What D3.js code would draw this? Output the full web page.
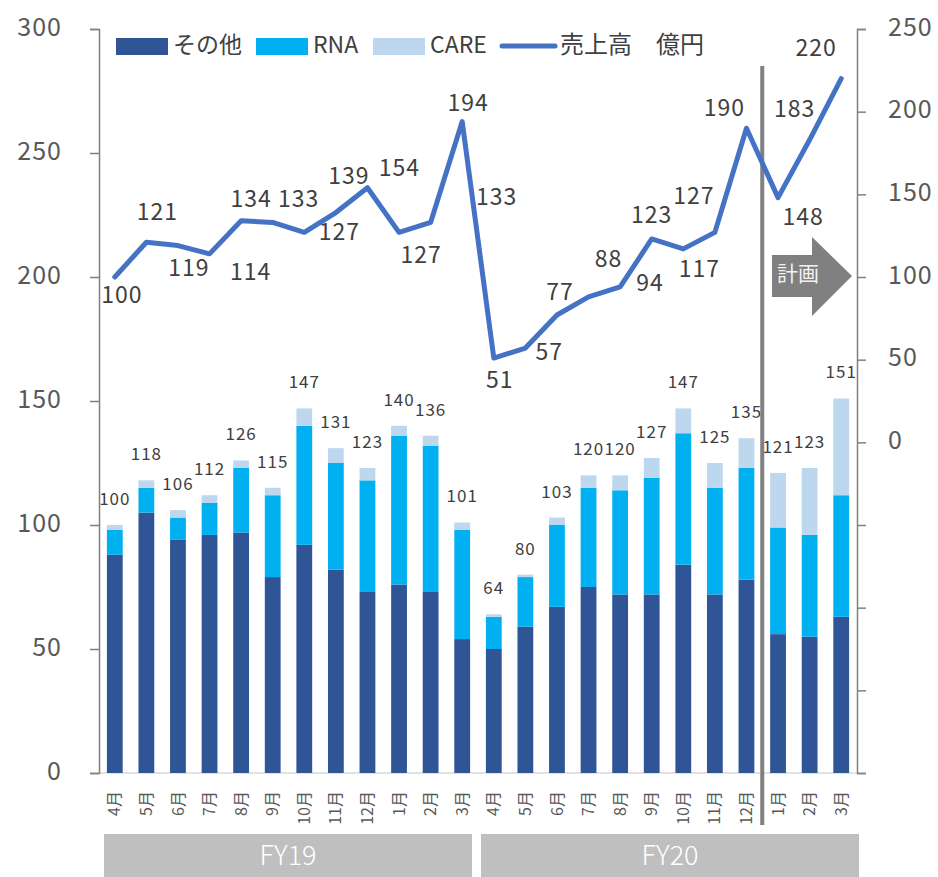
<!DOCTYPE html>
<html>
<head>
<meta charset="utf-8">
<script src="https://cdn.jsdelivr.net/npm/d3@7"></script>
<style>
  body { margin: 0; background: #fff; }
  text { font-family: "Noto Sans CJK JP", "Noto Sans", sans-serif; }
</style>
</head>
<body>
<div id="chart"></div>
<script>
(function() {

  // data
  const months = ['4月', '5月', '6月', '7月', '8月', '9月', '10月', '11月', '12月', '1月', '2月', '3月',
                  '4月', '5月', '6月', '7月', '8月', '9月', '10月', '11月', '12月', '1月', '2月', '3月'];
  const other = [88, 105, 94, 96, 97, 79, 92, 82, 73, 76, 73, 54,
                 50, 59, 67, 75, 72, 72, 84, 72, 78, 56, 55, 63];
  const rna = [10, 10, 9, 13, 26, 33, 48, 43, 45, 60, 59, 44,
               13, 20, 33, 40, 42, 47, 53, 43, 45, 43, 41, 49];
  const care = [2, 3, 3, 3, 3, 3, 7, 6, 5, 4, 4, 3,
                1, 1, 3, 5, 6, 8, 10, 10, 12, 22, 27, 39];
  const barTotals = [100, 118, 106, 112, 126, 115, 147, 131, 123, 140, 136, 101,
                     64, 80, 103, 120, 120, 127, 147, 125, 135, 121, 123, 151];
  const sales = [100, 121, 119, 114, 134, 133, 127, 139, 154, 127, 133, 194,
                 51, 57, 77, 88, 94, 123, 117, 127, 190, 148, 183, 220];
  const fiscalYears = ['FY19', 'FY20'];
  const seriesNames = ['その他', 'RNA', 'CARE'];
  const lineName = '売上高　億円';
  const planLabel = '計画';
  const leftTicks = [0, 50, 100, 150, 200, 250, 300];
  const rightTicks = [-200, -150, -100, -50, 0, 50, 100, 150, 200, 250];

  // label placement for the line values (style, not data)
  const lineLabelOffset = [
    [7, 18], [11, -30], [11, 22], [41, 18], [10, -22], [26, -23], [35, 0], [13, -37],
    [32, -20], [22, 23], [66, -25], [6, -19], [6, 22], [24, 4], [3, -23], [20, -38],
    [30, -4], [0, -24], [16, 20], [-21, -36], [-22, -20], [25, 19], [-15, -31], [-25, -31]
  ];

  const colors = ['#2f5597', '#00b0f0', '#bdd7ee'];
  const lineColor = '#4472c4';
  const textColor = '#404040';
  const axisColor = '#808080';

  const size = { x: 938, y: 877 };
  const plot = { left: 99, right: 857, top: 29, bottom: 773 };

  let svg = d3.select('#chart')
    .append('svg')
    .attr('width', size.x)
    .attr('height', size.y);

  let xScale = d3.scaleBand()
    .domain(d3.range(months.length))
    .range([plot.left, plot.right])
    .paddingInner(0.5)
    .paddingOuter(0.25);

  let yLeft = d3.scaleLinear()
    .domain([0, 300])
    .range([plot.bottom, plot.top]);

  let yRight = d3.scaleLinear()
    .domain([-200, 250])
    .range([plot.bottom, plot.top]);

  // x baseline
  svg.append('line')
    .attr('x1', plot.left).attr('x2', plot.right)
    .attr('y1', plot.bottom).attr('y2', plot.bottom)
    .attr('stroke', '#d9d9d9').attr('stroke-width', 1.5);

  // stacked bars
  const rows = months.map((m, i) => ({ i: i, other: other[i], rna: rna[i], care: care[i] }));
  const stack = d3.stack().keys(['other', 'rna', 'care'])(rows);

  stack.forEach((layer, k) => {
    svg.append('g')
      .selectAll('rect')
      .data(layer)
      .enter()
      .append('rect')
        .attr('x', d => xScale(d.data.i))
        .attr('width', xScale.bandwidth())
        .attr('y', d => yLeft(d[1]))
        .attr('height', d => yLeft(d[0]) - yLeft(d[1]))
        .attr('fill', colors[k]);
  });

  // bar total labels
  svg.append('g')
    .selectAll('text')
    .data(barTotals)
    .enter()
    .append('text')
      .attr('x', (d, i) => xScale(i) + xScale.bandwidth() / 2)
      .attr('y', (d, i) => yLeft(other[i] + rna[i] + care[i]) - 26)
      .attr('dy', '0.35em')
      .attr('text-anchor', 'middle')
      .attr('font-size', 17)
      .attr('letter-spacing', 1)
      .attr('fill', textColor)
      .text(d => d);

  // left axis
  let leftAxis = svg.append('g')
    .attr('transform', `translate(${plot.left}, 0)`)
    .call(d3.axisLeft(yLeft).tickValues(leftTicks).tickSize(9).tickPadding(28));
  leftAxis.select('.domain').attr('stroke', axisColor).attr('stroke-width', 1.5);
  leftAxis.selectAll('.tick line').attr('stroke', axisColor).attr('stroke-width', 1.5);
  leftAxis.selectAll('.tick text')
    .attr('font-size', 25)
    .attr('letter-spacing', 1)
    .attr('fill', '#595959')
    .attr('font-family', '"Noto Sans CJK JP", sans-serif')
    .attr('dy', '0.25em');

  // right axis
  let rightAxis = svg.append('g')
    .attr('transform', `translate(${plot.right}, 0)`)
    .call(d3.axisRight(yRight).tickValues(rightTicks).tickSize(9).tickPadding(22)
      .tickFormat(d => d >= 0 ? d : ''));
  rightAxis.select('.domain').attr('stroke', axisColor).attr('stroke-width', 1.5);
  rightAxis.selectAll('.tick line').attr('stroke', axisColor).attr('stroke-width', 1.5);
  rightAxis.selectAll('.tick text')
    .attr('font-size', 25)
    .attr('letter-spacing', 1)
    .attr('fill', '#595959')
    .attr('font-family', '"Noto Sans CJK JP", sans-serif')
    .attr('dy', '0.25em');

  // month labels, rotated
  svg.append('g')
    .selectAll('text')
    .data(months)
    .enter()
    .append('text')
      .attr('transform', (d, i) => `translate(${xScale(i) + xScale.bandwidth() / 2}, 791) rotate(-90)`)
      .attr('text-anchor', 'end')
      .attr('dy', '0.35em')
      .attr('font-size', 16)
      .attr('fill', '#595959')
      .text(d => d);

  // fiscal year boxes
  const fyBoxes = [
    { x0: 104, x1: 472 },
    { x0: 481, x1: 859 }
  ];
  fiscalYears.forEach((fy, j) => {
    svg.append('rect')
      .attr('x', fyBoxes[j].x0)
      .attr('y', 834)
      .attr('width', fyBoxes[j].x1 - fyBoxes[j].x0)
      .attr('height', 43)
      .attr('fill', '#bfbfbf');
    svg.append('text')
      .attr('x', (fyBoxes[j].x0 + fyBoxes[j].x1) / 2)
      .attr('y', 856)
      .attr('dy', '0.35em')
      .attr('text-anchor', 'middle')
      .attr('font-size', 27)
      .attr('font-weight', 300)
      .attr('fill', '#ffffff')
      .text(fy);
  });

  // plan divider
  const divX = (xScale(20) + xScale.bandwidth() + xScale(21)) / 2;
  svg.append('line')
    .attr('x1', divX).attr('x2', divX)
    .attr('y1', 66).attr('y2', 825)
    .attr('stroke', '#808080')
    .attr('stroke-width', 4);

  // plan arrow
  svg.append('path')
    .attr('d', 'M772,255 L812,255 L812,237 L852,276 L812,316 L812,297 L772,297 Z')
    .attr('fill', '#808080');
  svg.append('text')
    .attr('x', 798)
    .attr('y', 274)
    .attr('dy', '0.35em')
    .attr('text-anchor', 'middle')
    .attr('font-size', 21)
    .attr('fill', '#f2f2f2')
    .text(planLabel);

  // sales line
  let valueLine = d3.line()
    .x((d, i) => xScale(i) + xScale.bandwidth() / 2)
    .y(d => yRight(d));

  svg.append('path')
    .datum(sales)
    .attr('d', valueLine)
    .attr('fill', 'none')
    .attr('stroke', lineColor)
    .attr('stroke-width', 5)
    .attr('stroke-linejoin', 'round')
    .attr('stroke-linecap', 'round');

  svg.append('g')
    .selectAll('text')
    .data(sales)
    .enter()
    .append('text')
      .attr('x', (d, i) => xScale(i) + xScale.bandwidth() / 2 + lineLabelOffset[i][0])
      .attr('y', (d, i) => yRight(d) + lineLabelOffset[i][1])
      .attr('dy', '0.35em')
      .attr('text-anchor', 'middle')
      .attr('font-size', 23)
      .attr('letter-spacing', 1)
      .attr('fill', textColor)
      .text(d => d);

  // legend
  let legend = svg.append('g');
  const legendX = [116, 256, 373];
  seriesNames.forEach((name, k) => {
    legend.append('rect')
      .attr('x', legendX[k]).attr('y', 38)
      .attr('width', 52).attr('height', 17)
      .attr('fill', colors[k]);
    legend.append('text')
      .attr('x', legendX[k] + 57).attr('y', 45)
      .attr('dy', '0.35em')
      .attr('font-size', 23)
      .attr('fill', textColor)
      .text(name);
  });
  legend.append('line')
    .attr('x1', 502).attr('x2', 555)
    .attr('y1', 46).attr('y2', 46)
    .attr('stroke', lineColor)
    .attr('stroke-width', 5)
    .attr('stroke-linecap', 'round');
  legend.append('text')
    .attr('x', 560).attr('y', 45)
    .attr('dy', '0.35em')
    .attr('font-size', 24)
    .attr('fill', textColor)
    .text(lineName);

}());
</script>
</body>
</html>
